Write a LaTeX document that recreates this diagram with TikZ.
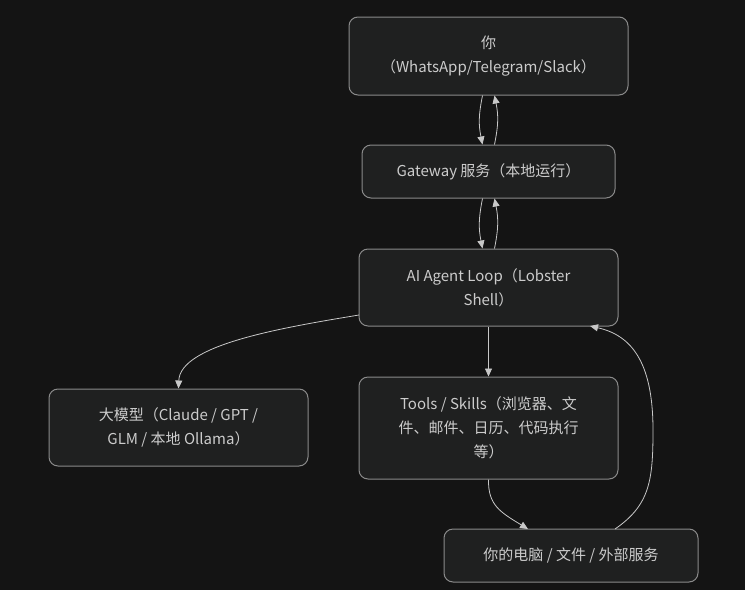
\documentclass[tikz,border=0pt]{standalone}
\usepackage{fontspec}
\setmainfont{Noto Sans CJK SC}
\usetikzlibrary{arrows.meta}
\definecolor{bg}{HTML}{141414}
\definecolor{nodefill}{HTML}{1F2020}
\definecolor{nodeline}{HTML}{8A8A8A}
\definecolor{txt}{HTML}{CCCCCC}
\definecolor{edge}{HTML}{C8C8C8}
\begin{document}
\begin{tikzpicture}[x=1pt,y=-1pt,
  box/.style={draw=nodeline, line width=1pt, fill=nodefill, rounded corners=9pt,
    text=txt, font=\fontsize{15}{24}\selectfont, align=center, inner sep=0pt},
  link/.style={draw=edge, line width=0.8pt, -{Triangle[length=8pt,width=7pt]}}]
\fill[bg] (0,0) rectangle (745,590);
\useasboundingbox (0,0) rectangle (745,590);
\node[box, minimum width=279pt, minimum height=78pt] (you) at (488.5,56) {你\\（WhatsApp/Telegram/Slack）};
\node[box, minimum width=253pt, minimum height=53pt] (gw) at (488.5,171.5) {Gateway 服务（本地运行）};
\node[box, minimum width=259pt, minimum height=77pt] (ag) at (488.5,287.5) {AI Agent Loop（Lobster\\Shell）};
\node[box, minimum width=259pt, minimum height=77pt] (llm) at (178.5,427.5) {大模型（Claude / GPT /\\GLM / 本地 Ollama）};
\node[box, minimum width=259pt, minimum height=102pt] (tools) at (488.5,428) {Tools / Skills（浏览器、文\\件、邮件、日历、代码执行\\等）};
\node[box, minimum width=254pt, minimum height=53pt] (pc) at (571,555.5) {你的电脑 / 文件 / 外部服务};
% you <-> gateway
\draw[link] ([xshift=-6pt]you.south) .. controls +(-4,20) and +(-4,-20) .. ([xshift=-6pt]gw.north);
\draw[link] ([xshift=6pt]gw.north) .. controls +(4,-20) and +(4,20) .. ([xshift=6pt]you.south);
% gateway <-> agent
\draw[link] ([xshift=-6pt]gw.south) .. controls +(-4,20) and +(-4,-20) .. ([xshift=-6pt]ag.north);
\draw[link] ([xshift=6pt]ag.north) .. controls +(4,-20) and +(4,20) .. ([xshift=6pt]gw.south);
% agent -> llm
\coordinate (agl) at (359,315);
\draw[link] (agl) .. controls (280,328) and (180,345) .. (llm.north);
% agent -> tools
\draw[link] (ag.south) -- (tools.north);
% tools -> pc
\coordinate (pcin) at (528,529);
\draw[link] (tools.south) .. controls (488,505) and (500,512) .. (pcin);
% pc -> agent
\coordinate (pcout) at (615,529);
\coordinate (agin) at (590,326);
\draw[link] (pcout) .. controls (650,505) and (653,480) .. (653,430) .. controls (653,360) and (630,335) .. (agin);
\end{tikzpicture}
\end{document}
